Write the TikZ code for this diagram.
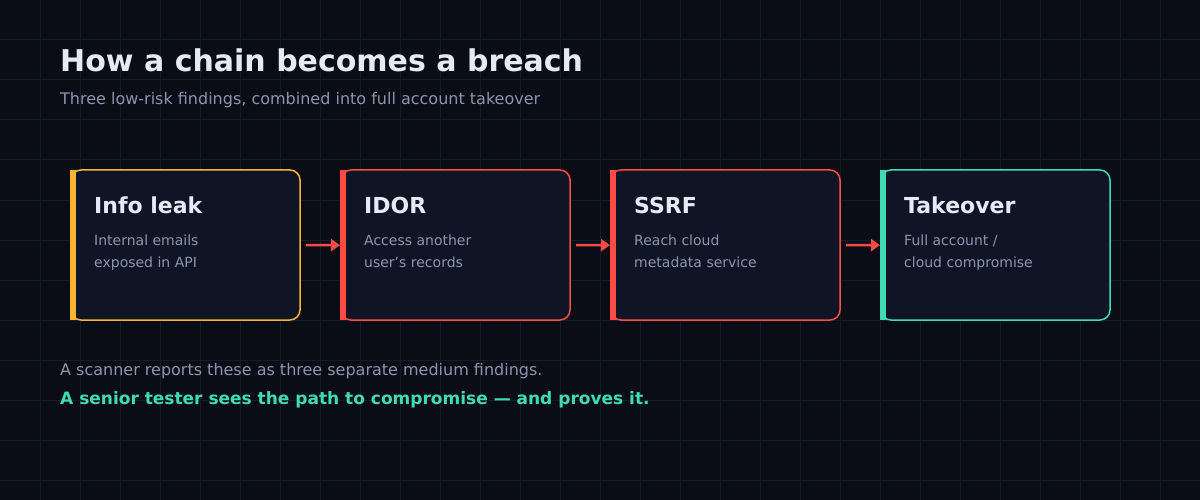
\documentclass[tikz,border=0pt]{standalone}
\usepackage{fontspec}
\setmainfont{DejaVu Sans}
\usetikzlibrary{arrows.meta}
\definecolor{bg}{HTML}{0A0D16}
\definecolor{gridc}{HTML}{151B2A}
\definecolor{boxf}{HTML}{0F1525}
\definecolor{txt}{HTML}{E6EAF4}
\definecolor{sub}{HTML}{8A95AD}
\definecolor{yel}{HTML}{F7B432}
\definecolor{redc}{HTML}{FF4B44}
\definecolor{grn}{HTML}{3FDCB4}
\tikzset{
  card/.style={draw=#1, line width=1.5pt, fill=boxf, rounded corners=10pt},
  head/.style={anchor=base west, text=txt, font=\bfseries\fontsize{22}{24}\selectfont, inner sep=0},
  desc/.style={anchor=base west, text=sub, font=\fontsize{14}{22}\selectfont, inner sep=0},
  flow/.style={draw=redc, line width=2.5pt, -{Triangle[length=9pt,width=12pt]}}
}
\begin{document}
\begin{tikzpicture}[x=1pt,y=-1pt]
\fill[bg] (0,0) rectangle (1200,500);
\useasboundingbox (0,0) rectangle (1200,500);
\foreach \i in {40,80,...,1160} \draw[gridc, line width=1pt] (\i,0) -- (\i,500);
\foreach \j in {40,80,...,480} \draw[gridc, line width=1pt] (0,\j) -- (1200,\j);
\node[anchor=base west, text=txt, font=\bfseries\fontsize{30}{34}\selectfont, inner sep=0] (title) at (60,72) {How a chain becomes a breach};
\node[anchor=base west, text=sub, font=\fontsize{16}{18}\selectfont, inner sep=0] (subt) at (60,105) {Three low-risk findings, combined into full account takeover};
\foreach \n/\x/\c/\h/\da/\db in {a/70/yel/Info leak/Internal emails/exposed in API, b/340/redc/IDOR/Access another/user's records, c/610/redc/SSRF/Reach cloud/metadata service, d/880/grn/Takeover/{Full account /}/cloud compromise}{
  \draw[card=\c] (\x+1,170) rectangle (\x+230,320);
  \fill[\c] (\x,170) rectangle (\x+6,320);
  \node[draw=none, inner sep=0, minimum width=230pt, minimum height=150pt, anchor=north west] (\n) at (\x,170) {};
  \node[head] at (\x+24,213) {\h};
  \node[desc] at (\x+24,245) {\da};
  \node[desc] at (\x+24,267) {\db};
}
\draw[flow] (306,245) -- (b.west);
\draw[flow] (576,245) -- (c.west);
\draw[flow] (846,245) -- (d.west);
\node[anchor=base west, text=sub, font=\fontsize{16}{18}\selectfont, inner sep=0] (f1) at (60,375) {A scanner reports these as three separate medium findings.};
\node[anchor=base west, text=grn, font=\bfseries\fontsize{17}{18}\selectfont, inner sep=0] (f2) at (60,404) {A senior tester sees the path to compromise — and proves it.};
\end{tikzpicture}
\end{document}
